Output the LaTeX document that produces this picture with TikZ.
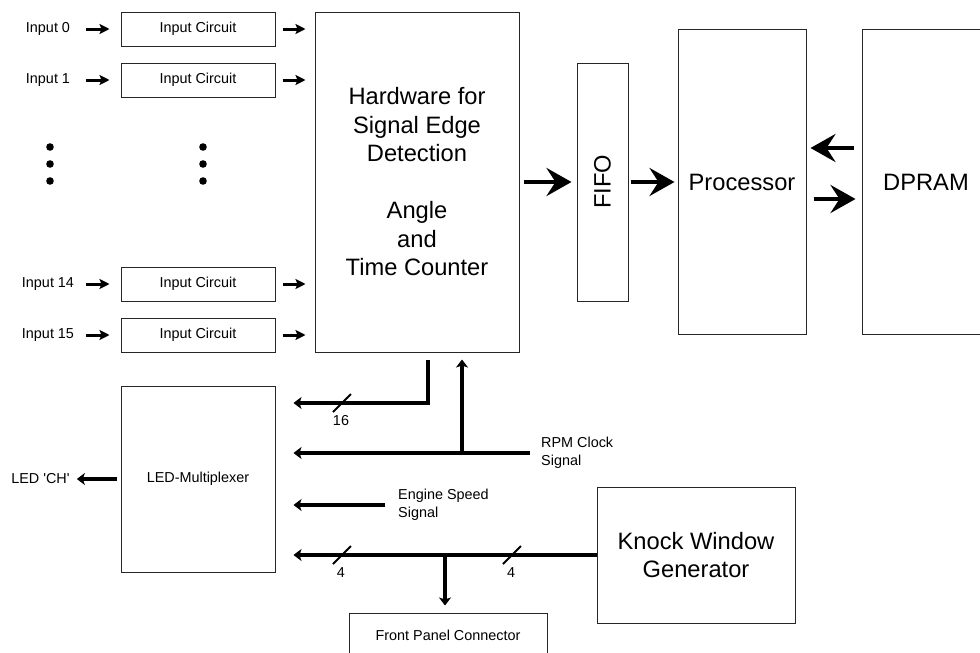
\documentclass[tikz,border=0pt]{standalone}
\usepackage{fontspec}
\setmainfont{Liberation Sans}
\usetikzlibrary{arrows.meta,positioning,calc}

\begin{document}
\begin{tikzpicture}[
  x=1pt, y=-1pt,
  font=\fontsize{14.4}{17.5}\selectfont,
  block/.style={rectangle, draw=black!85, line width=1pt, inner sep=0pt,
                align=center},
  big/.style={font=\fontsize{23.7}{28.5}\selectfont},
  lbl/.style={inner sep=0pt, align=left},
  inarr/.style={-{Stealth[length=10pt, width=10pt, inset=2pt]}, line width=3pt},
  bigarr/.style={-{Stealth[length=25pt, width=28pt, inset=9pt]}, line width=4pt},
  bus/.style={-{Stealth[length=8pt, width=12pt, inset=2pt]}, line width=4pt},
  slash/.style={line width=2pt}
]
  \clip (0,0) rectangle (980,653);

  % main blocks
  \node[block, big, minimum width=204pt, minimum height=340pt] (hw) at (417,182)
    {Hardware for\\Signal Edge\\Detection\\[28.5pt]Angle\\and\\Time Counter};
  \node[block, big, rotate=90, minimum width=238pt, minimum height=51pt] (fifo) at (602.5,182) {FIFO};
  \node[block, big, minimum width=128pt, minimum height=305pt] (proc) at (742,182) {Processor};
  \node[block, big, minimum width=128pt, minimum height=305pt] (dpram) at (926,182) {DPRAM};
  \node[block, minimum width=154pt, minimum height=186pt] (led) at (198,479) {LED-Multiplexer};
  \node[block, big, minimum width=198pt, minimum height=136pt] (knock) at (696,555) {Knock Window\\Generator};
  \node[block, minimum width=198pt, minimum height=44pt] (fp) at (448,635) {Front Panel Connector};

  % input channels
  \foreach \n/\y in {0/29, 1/80, 14/284, 15/335} {
    \node[block, minimum width=154pt, minimum height=34pt] (in\n) at (198,\y) {Input Circuit};
    \node[lbl, minimum width=64pt, align=center] (lab\n) at (48,\y) {Input \n};
    \draw[inarr, shorten <=6pt, shorten >=11pt] (lab\n) -- (in\n);
    \draw[inarr, shorten <=7pt, shorten >=9pt] (in\n) -- (in\n -| hw.west);
  }
  \foreach \x in {50,203}
    \foreach \y in {147,164,181}
      \fill (\x,\y) circle[radius=3.8pt];

  % data path
  \draw[bigarr, shorten <=4pt, shorten >=5pt] (hw) -- (fifo);
  \draw[bigarr, shorten <=2pt, shorten >=3pt] (fifo) -- (proc);
  \draw[bigarr, shorten <=8pt, shorten >=4pt] (dpram.west |- 0,148) -- (proc.east |- 0,148);
  \draw[bigarr, shorten <=7pt, shorten >=6pt] (proc.east |- 0,199) -- (dpram.west |- 0,199);

  % signals to the multiplexer
  \node[lbl, anchor=west] (rpm) at (541,453) {RPM Clock\\Signal};
  \node[lbl, anchor=west] (eng) at (398,505) {Engine Speed\\Signal};
  \node[lbl] (ledch) at (40.5,479) {LED \textquotesingle CH\textquotesingle};

  \draw[bus, shorten <=7pt, shorten >=18pt] (hw.south -| 428,0) |- (led.east |- 0,403);
  \draw[bus, shorten <=11pt, shorten >=18pt] (rpm.west) -- (led.east |- rpm.west);
  \draw[bus, shorten >=7pt] (rpm.west -| 462,0) -- (hw.south -| 462,0);
  \draw[bus, shorten <=13pt, shorten >=18pt] (eng.west) -- (led.east |- eng.west);
  \draw[bus, shorten >=18pt] (knock.west) -- (led.east |- knock.west);
  \draw[bus, shorten >=7pt] (knock.west -| 445,0) -- (fp.north -| 445,0);
  \draw[bus, line width=3.5pt, shorten <=4pt, shorten >=7pt] (led) -- (ledch);

  % bus widths
  \coordinate (w16) at (342,403);
  \coordinate (w4a) at (342,555);
  \coordinate (w4b) at (512,555);
  \foreach \m/\t in {w16/16, w4a/4, w4b/4} {
    \draw[slash] ($(\m)+(-9,9)$) -- ($(\m)+(9,-9)$);
    \node[lbl] (t\m) at ($(\m)+(-1,18)$) {\t};
  }
\end{tikzpicture}
\end{document}
